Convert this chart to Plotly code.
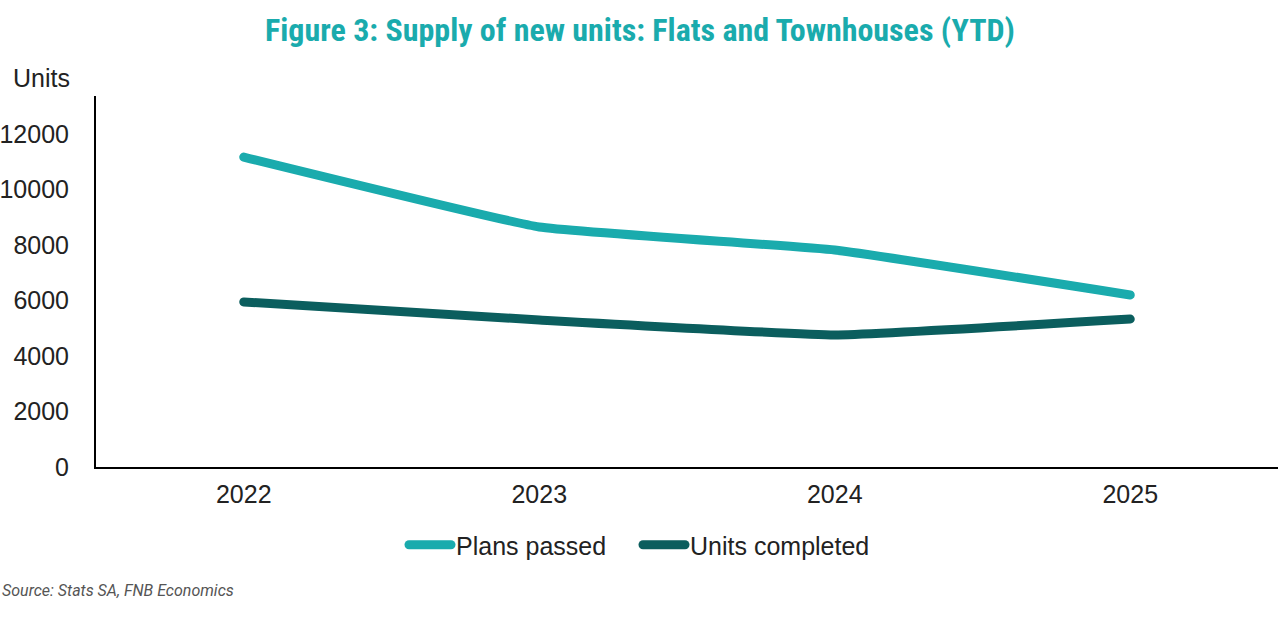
import plotly.graph_objects as go

years = ["2022", "2023", "2024", "2025"]
plans_passed = [11170, 8650, 7820, 6200]
units_completed = [5950, 5300, 4760, 5330]
y_ticks = [0, 2000, 4000, 6000, 8000, 10000, 12000]
y_tick_labels = ["0", "2000", "4000", "6000", "8000", "10000", "12000"]

fig = go.Figure()
fig.add_trace(go.Scatter(x=years, y=plans_passed, name="Plans passed", mode="lines",
                         line=dict(color="#1AABAD", width=9, shape="spline", smoothing=0.3)))
fig.add_trace(go.Scatter(x=years, y=units_completed, name="Units completed", mode="lines",
                         line=dict(color="#0B5E5E", width=9, shape="spline", smoothing=0.3)))

fig.update_layout(
    width=1280, height=631,
    margin=dict(l=96, r=2, t=96, b=164, autoexpand=False),
    paper_bgcolor="white", plot_bgcolor="white",
    font=dict(family="Liberation Sans, Arial", size=25, color="#222222"),
    title=dict(text="Figure 3: Supply of new units: Flats and Townhouses (YTD)",
               x=0.5, xanchor="center", y=1 - 30 / 631, yanchor="middle",
               font=dict(family="Roboto Condensed, Roboto", size=32, color="#1AABAD", weight="bold")),
    xaxis=dict(type="category", range=[-0.5, 3.5], showline=True, linecolor="black", linewidth=2,
               showgrid=False, ticks="", ticklabelstandoff=4, tickfont=dict(size=25, color="#222222")),
    yaxis=dict(range=[0, 13370], tickvals=y_ticks, ticktext=y_tick_labels, showline=True,
               linecolor="black", linewidth=2, showgrid=False, zeroline=False, ticks="",
               ticklabelstandoff=20, tickfont=dict(size=25, color="#222222")),
    legend=dict(orientation="h", x=(404 - 96) / 1182, xanchor="left",
                y=(467 - 545) / 371, yanchor="middle",
                font=dict(size=25, color="#222222"), itemwidth=42, entrywidth=177,
                entrywidthmode="pixels", traceorder="normal"),
    showlegend=True,
)

fig.add_annotation(text="Units", xref="paper", yref="paper", x=-0.0715, y=(467 - 78) / 371,
                   xanchor="left", yanchor="middle", showarrow=False,
                   font=dict(size=25, color="#222222"))
fig.add_annotation(text="<i>Source: Stats SA, FNB Economics</i>", xref="paper", yref="paper",
                   x=-0.081, y=(467 - 590) / 371, xanchor="left", yanchor="middle", showarrow=False,
                   font=dict(family="Roboto, Liberation Sans", size=16, color="#555555"))

post = (
    "document.body.style.margin='0';"
    "document.querySelectorAll('path.js-line').forEach(function(p){p.style.strokeLinecap='round';});"
)
fig.write_html("out.html", post_script=post, config={"displayModeBar": False})
